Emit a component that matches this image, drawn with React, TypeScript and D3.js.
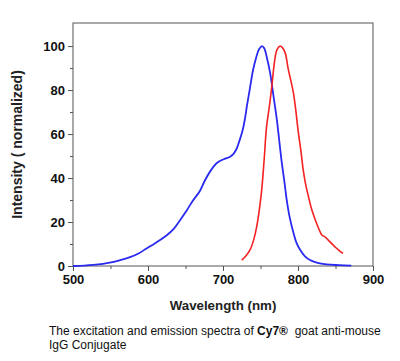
import * as d3 from "d3";
import {useEffect, useRef} from "react";

// excitation spectrum (blue): wavelength nm, intensity normalized
const excitation: [number, number][] = [
    [500, 0], [515, 0.2], [527, 0.5], [540, 1.0], [549, 1.5], [562, 2.6], [576, 4.0],
    [588, 5.8], [598, 8.0], [608, 10.0], [616, 11.8], [625, 14.0], [634, 16.8],
    [642, 20.5], [652, 25.5], [660, 29.8], [669, 34.0], [676, 39.0], [684, 43.6],
    [691, 46.6], [697, 48.0], [703, 48.8], [709, 49.6], [714, 51.0], [718, 53.2],
    [722, 57.0], [726, 61.5], [729, 66.4], [732, 73.0], [736, 81.0], [740, 89.0],
    [744, 94.5], [748, 98.6], [752, 100], [755, 99.0], [759, 94.0], [763, 87.5],
    [767, 78.0], [772, 66.0], [775, 57.0], [778, 48.0], [782, 38.0], [785, 30.0],
    [789, 22.0], [794, 15.0], [798, 10.5], [803, 7.3], [809, 4.5], [816, 2.7],
    [825, 1.5], [838, 0.7], [855, 0.4], [871, 0.2],
];

// emission spectrum (red)
const emission: [number, number][] = [
    [725, 2.7], [731, 4.8], [736, 7.3], [741, 12.0], [745, 18.0], [749, 27.0],
    [752, 36.0], [755, 49.0], [758, 63.0], [762, 73.0], [765, 81.5], [769, 93.6],
    [772, 98.4], [776, 100], [779, 99.4], [783, 96.8], [787, 89.5], [791, 83.5],
    [794, 78.5], [797, 71.0], [800, 62.0], [804, 52.0], [807, 43.6], [810, 37.5],
    [814, 31.5], [818, 26.0], [823, 21.0], [827, 17.5], [832, 14.0], [835, 13.5],
    [838, 12.6], [842, 11.2], [847, 9.5], [851, 8.2], [854, 7.3], [857, 6.4],
    [860, 5.8],
];

const xTicks = [500, 600, 700, 800, 900];
const xMinor = [550, 650, 750, 850];
const yTicks = [0, 20, 40, 60, 80, 100];
const yMinor = [10, 30, 50, 70, 90];

const App = () => {
    const ref = useRef<SVGSVGElement>(null);

    useEffect(() => {
        const svg = d3.select(ref.current);
        svg.selectAll("*").remove();

        const margin = {top: 23, right: 27, bottom: 95, left: 73},
            width = 400 - margin.left - margin.right,
            height = 361 - margin.top - margin.bottom;

        const g = svg.append("g")
            .attr("transform", `translate(${margin.left}, ${margin.top})`);

        const x = d3.scaleLinear().domain([500, 900]).range([0, width]);
        const y = d3.scaleLinear().domain([0, 110.5]).range([height, 0]);

        const axisColor = "#555";
        const font = "Arial, 'Liberation Sans', sans-serif";

        // X axis
        const xAxis = g.append("g")
            .attr("transform", `translate(0, ${height})`)
            .call(d3.axisBottom(x).tickValues(xTicks).tickSize(5).tickPadding(4));
        g.append("g")
            .attr("transform", `translate(0, ${height})`)
            .call(d3.axisBottom(x).tickValues(xMinor).tickSize(3).tickFormat(() => ""));

        // Y axis
        const yAxis = g.append("g")
            .call(d3.axisLeft(y).tickValues(yTicks).tickSize(5).tickPadding(3));
        g.append("g")
            .call(d3.axisLeft(y).tickValues(yMinor).tickSize(3).tickFormat(() => ""));

        g.selectAll(".domain").remove();
        g.selectAll(".tick line").attr("stroke", axisColor);
        [xAxis, yAxis].forEach(a => a.selectAll("text")
            .attr("fill", "#111")
            .style("font-family", font)
            .style("font-size", "13px")
            .style("font-weight", "bold"));

        // frame
        g.append("rect")
            .attr("width", width)
            .attr("height", height)
            .attr("fill", "none")
            .attr("stroke", axisColor)
            .attr("stroke-width", 1);

        const line = d3.line<[number, number]>()
            .x(d => x(d[0]))
            .y(d => y(d[1]))
            .curve(d3.curveCatmullRom);

        g.append("path")
            .datum(excitation)
            .attr("fill", "none")
            .attr("stroke", "#2a2af0")
            .attr("stroke-width", 1.8)
            .attr("d", line);

        g.append("path")
            .datum(emission)
            .attr("fill", "none")
            .attr("stroke", "#f42222")
            .attr("stroke-width", 1.6)
            .attr("d", line);

        // axis titles
        g.append("text")
            .attr("x", width / 2)
            .attr("y", height + 44)
            .attr("text-anchor", "middle")
            .style("font-family", font)
            .style("font-size", "13.3px")
            .style("font-weight", "bold")
            .attr("fill", "#222")
            .text("Wavelength (nm)");

        g.append("text")
            .attr("transform", `translate(${-51}, ${height / 2}) rotate(-90)`)
            .attr("text-anchor", "middle")
            .style("font-family", font)
            .style("font-size", "14px")
            .style("font-weight", "bold")
            .attr("fill", "#222")
            .text("Intensity ( normalized)");

        // caption
        const cap = svg.append("text")
            .attr("x", 49)
            .attr("y", 335)
            .style("font-family", font)
            .style("font-size", "12px")
            .attr("fill", "#111");
        cap.append("tspan").text("The excitation and emission spectra of ");
        cap.append("tspan").style("font-weight", "bold").text("Cy7®");
        cap.append("tspan").attr("xml:space", "preserve").text("  goat anti-mouse");
        svg.append("text")
            .attr("x", 49)
            .attr("y", 349)
            .style("font-family", font)
            .style("font-size", "12px")
            .attr("fill", "#111")
            .text("IgG Conjugate");
    }, []);

    return (
        <svg ref={ref} width={400} height={361}
             style={{position: "absolute", left: 0, top: 0, background: "#fff"}}/>
    );
};

export default App;
